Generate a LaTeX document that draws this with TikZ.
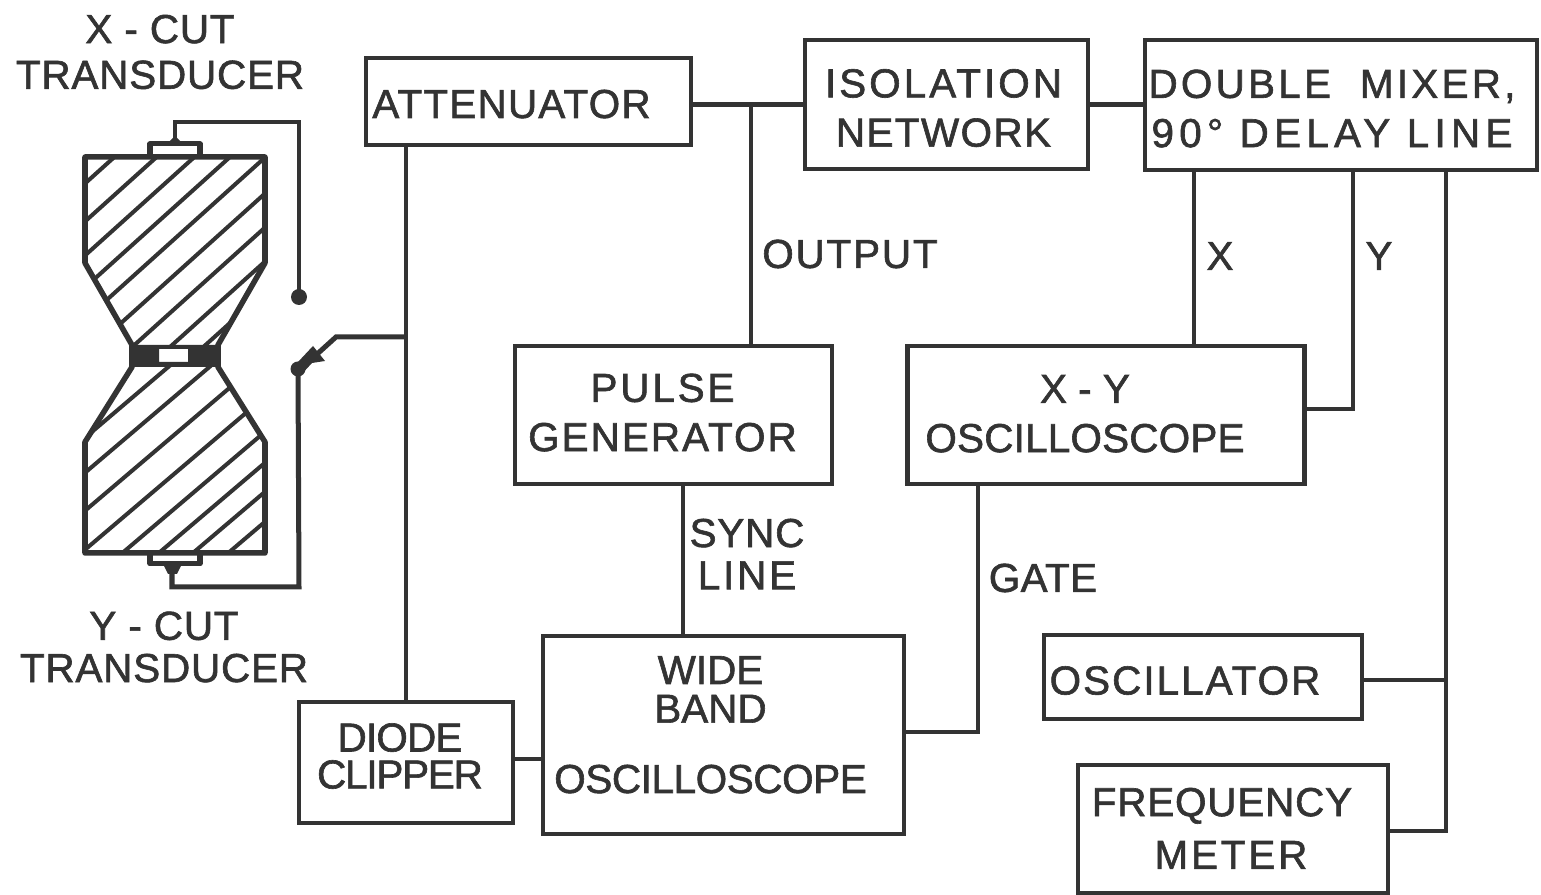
\documentclass[tikz,border=0pt]{standalone}
\usepackage{fontspec}
\setmainfont{Liberation Sans}[FakeBold=1.5]
\definecolor{ink}{gray}{0.2}
% text block inside a box, moved by dx,dy (reference pixels, dy upward)
\newcommand\tx[3]{\kern#1\dimexpr.02cm\relax\smash{\raisebox{\dimexpr#2\dimexpr.01cm\relax-.45em\relax}{\begin{tabular}{@{}c@{}}#3\end{tabular}}}}
\newcommand\ls[2]{{\addfontfeature{LetterSpace=#1}#2}}
\tikzset{
box/.style 2 args={draw=ink,line width=.045cm,inner sep=0pt,text=ink,minimum width=#1*.01cm,minimum height=#2*.01cm,font=\fontsize{11.5}{14}\selectfont},
lbl/.style={inner sep=0pt,text=ink,align=center,font=\fontsize{11.5}{16}\selectfont},
wire/.style={draw=ink,line width=.045cm},
hatch/.style={draw=ink,line width=.04cm},
edge/.style={draw=ink,line width=.055cm,line join=round}
}
\begin{document}
\begin{tikzpicture}[x=.01cm,y=-.01cm]
\useasboundingbox(0,0)rectangle(1541,895);
\fill[white](0,0)rectangle(1541,895);
% boxes
\node[box={325}{87}](atten)at(528.5,101.5){\tx{-17}{1}{\ls{3}{ATTENUATOR}}};
\node[box={283}{129}](iso)at(946.5,104.5){\tx{-3}{0}{\ls{7.5}{ISOLATION}\\\ls{3.5}{NETWORK}}};
\node[box={392}{130}](mixer)at(1341,105){\tx{-9}{0}{\ls{8}{DOUBLE\ \ MIXER,}\\\ls{13}{90° DELAY LINE}}};
\node[box={317}{138}](pulse)at(673.5,415){\tx{-11}{6}{\ls{7}{PULSE}\\\ls{5}{GENERATOR}}};
\node[box={397}{138}](xyscope)at(1106,415){\tx{-21}{5}{X\ -\ Y\\\ls{.5}{OSCILLOSCOPE}}};
\node[box={361}{198}](wide)at(723.5,735){\tx{-13}{14}{WIDE\\[-3pt]BAND\\[6pt]\ls{-1}{OSCILLOSCOPE}}};
\node[box={214}{121}](diode)at(406,762.5){\tx{-6}{10}{\ls{-2}{DIODE}\\[-3.5pt]\ls{-3}{CLIPPER}}};
\node[box={318}{84}](osc)at(1203,677){\tx{-18}{0}{\ls{5}{OSCILLATOR}}};
\node[box={310}{128}](freq)at(1233,829){\tx{-11}{4}{\ls{2}{FREQUENCY}\\[1pt]\kern.18cm\ls{7}{METER}}};
% free labels
\node[lbl](xcut)at(160,52){\ls{2}{X\ -\ CUT}\\[-3pt]\ls{2}{TRANSDUCER}};
\node[lbl](ycut)at(164,647){\ls{2}{Y\ -\ CUT}\\[-4pt]\ls{2}{TRANSDUCER}};
\node[lbl](output)at(850,254){\ls{4.5}{OUTPUT}};
\node[lbl](xlab)at(1220,256){X};
\node[lbl](ylab)at(1379,256){Y};
\node[lbl](sync)at(747,554){\ls{2}{SYNC}\\[-4pt]\ls{7}{LINE}};
\node[lbl](gate)at(1043,578){\ls{1}{GATE}};
% connectors
\coordinate(tee)at(751,104);
\coordinate(xin)at(1194,346);
\coordinate(yin)at(1353,409);
\coordinate(mid)at(1446,680);
\coordinate(sw)at(406,337);
\coordinate(up)at(299,297);
\coordinate(dn)at(298,369);
\draw[wire](atten.east|-iso.west)--(iso.west);
\draw[wire](iso.east)--(mixer.west|-iso.east);
\draw[wire](tee)--(tee|-pulse.north);
\draw[wire](xin|-mixer.south)--(xin);
\draw[wire](yin|-mixer.south)--(yin)--(yin-|xyscope.east);
\draw[wire](mid|-mixer.south)--(mid|-0,831)--(freq.east|-0,831);
\draw[wire](osc.east|-mid)--(mid);
\coordinate(syncx)at(683,560);
\draw[wire](syncx|-pulse.south)--(syncx|-wide.north);
\coordinate(gatex)at(978,732);
\draw[wire](gatex|-xyscope.south)--(gatex)--(gatex-|wide.east);
\draw[wire](diode.east|-0,759)--(wide.west|-0,759);
\draw[wire](sw|-atten.south)--(sw|-diode.north);
% switch
\draw[wire,line width=.05cm](sw)--(336,337)--(315,356);
\fill[ink](298,362)--(313,346)--(325,361)--(312,363)--(300,376)--cycle;
\fill[ink](up)circle(8);
\fill[ink](dn)circle(7.5);
\draw[wire](up)--(299,122)--(175,122)--(175,145);
\draw[wire,line width=.05cm](dn)--(299,587)--(172,587)--(172,565);
% crystal
\begin{scope}
\clip(85,157)--(265,157)--(265,263)--(218,345)--(132,345)--(85,263)--cycle;
\foreach\k in {260,298,332,364,396,432,466,500,530}{\draw[hatch](80,{\k-72})--(270,{\k-243});}
\end{scope}
\begin{scope}
\clip(132,367)--(218,367)--(265,442)--(265,553)--(85,553)--(85,442)--cycle;
\foreach\k in {510,545,583,622,657,688,717,747}{\draw[hatch](80,{\k-68})--(270,{\k-229.5});}
\end{scope}
\draw[edge](85,157)--(265,157)--(265,263)--(218,345)--(218,367)--(265,442)--(265,553)--(85,553)--(85,442)--(132,367)--(132,345)--(85,263)--cycle;
\fill[ink,even odd rule](132,345)rectangle(218,367)(159,349)rectangle(188,362);
% transducers
\draw[edge,line width=.05cm](150,157)--(150,144)--(200,144)--(200,157);
\fill[ink](167,144)--(175,136)--(183,144)--cycle;
\draw[edge,line width=.05cm](150,553)--(150,564)--(200,564)--(200,553);
\fill[ink](163,564)--(182,564)--(177,574)--(168,574)--cycle;
\end{tikzpicture}
\end{document}
